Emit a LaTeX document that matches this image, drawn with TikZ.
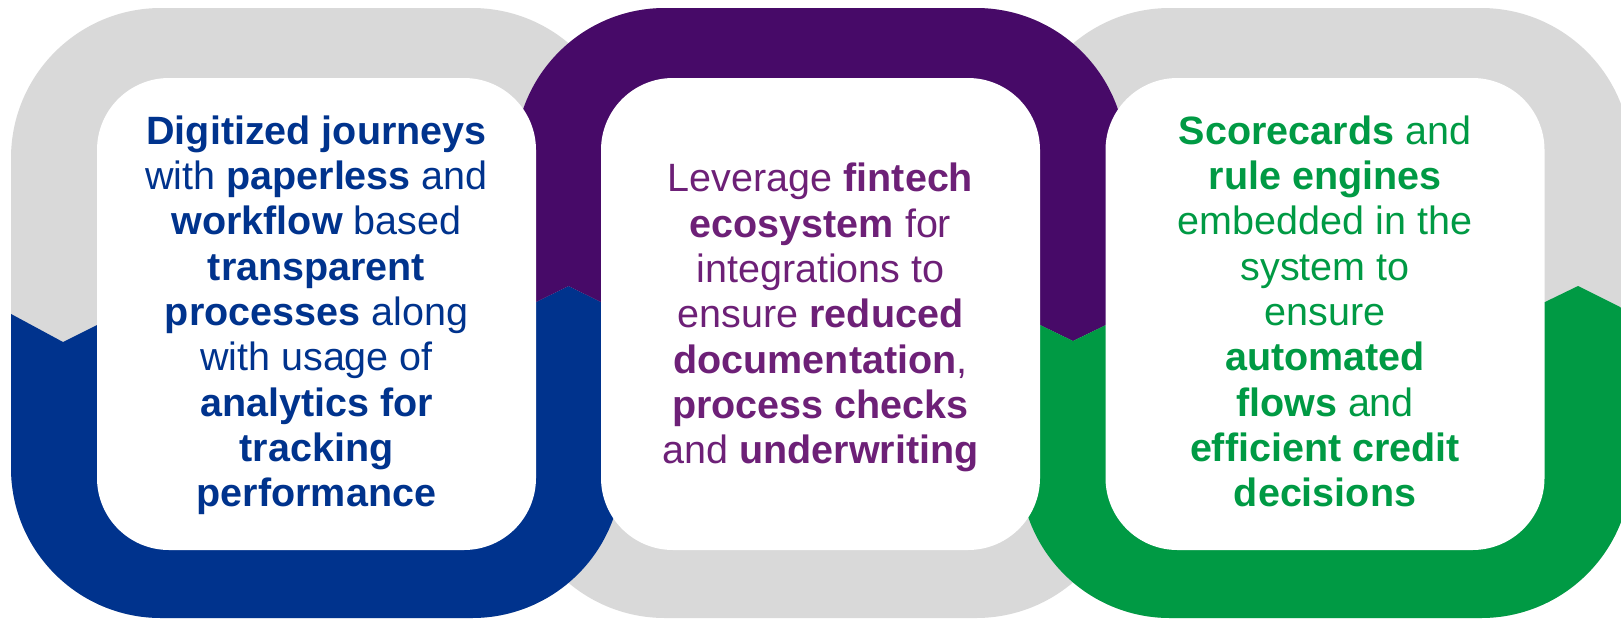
\documentclass[tikz,border=0pt]{standalone}
\usepackage{fontspec}
\setmainfont{Liberation Sans}
\definecolor{ringgrey}{HTML}{D9D9D9}
\definecolor{ringblue}{HTML}{00338D}
\definecolor{ringpurple}{HTML}{470A68}
\definecolor{ringgreen}{HTML}{009A44}
\definecolor{txtpurple}{HTML}{6D2077}
\definecolor{txtgreen}{HTML}{009A44}
\begin{document}
\begin{tikzpicture}[x=1pt,y=-1pt,
  outerring/.style={rounded corners=150pt},
  innerbox/.style={fill=white, rounded corners=72pt, inner sep=0pt, minimum width=439pt, minimum height=472pt},
  blocktext/.style={align=center, inner sep=0pt, anchor=base, font=\fontsize{39.5}{45.3}\selectfont}]
\useasboundingbox (0,0) rectangle (1621,619);
% grey backgrounds of the three rings
\fill[ringgrey, outerring] (11,8) rectangle (622,618);
\fill[ringgrey, outerring] (515,8) rectangle (1126,618);
\fill[ringgrey, outerring] (1020,8) rectangle (1631,618);
% blue lower part of left ring
\begin{scope}
  \clip (-10,302.6) -- (63,342) -- (97,325) -- (536,302) -- (568.5,286) -- (601,302) -- (640,302) -- (640,640) -- (-10,640) -- cycle;
  \fill[ringblue, outerring] (11,8) rectangle (622,618);
\end{scope}
% purple upper part of middle ring
\begin{scope}
  \clip (480,-10) -- (480,302) -- (536,302) -- (568.5,286) -- (601,302) -- (1040,325) -- (1073,341) -- (1106,325) -- (1150,325) -- (1150,-10) -- cycle;
  \fill[ringpurple, outerring] (515,8) rectangle (1126,618);
\end{scope}
% green lower part of right ring
\begin{scope}
  \clip (1000,325) -- (1040,325) -- (1073,341) -- (1106,325) -- (1545,302) -- (1578,286) -- (1640,317) -- (1640,640) -- (1000,640) -- cycle;
  \fill[ringgreen, outerring] (1020,8) rectangle (1631,618);
\end{scope}
% white inner boxes
\node[innerbox] (boxA) at (316.5,314) {};
\node[innerbox] (boxB) at (820.5,314) {};
\node[innerbox] (boxC) at (1325,314) {};
% texts (anchor = baseline of last line)
\node[blocktext, text=ringblue] (textA) at (316.5,506.7) {%
\textbf{Digitized journeys}\\
with \textbf{paperless} and\\
\textbf{workflow} based\\
\textbf{transparent}\\
\textbf{processes} along\\
with usage of\\
\textbf{analytics for}\\
\textbf{tracking}\\
\textbf{performance}};
\node[blocktext, text=txtpurple] (textB) at (820.5,463.6) {%
Leverage \textbf{fintech}\\
\textbf{ecosystem} for\\
integrations to\\
ensure \textbf{reduced}\\
\textbf{documentation},\\
\textbf{process checks}\\
and \textbf{underwriting}};
\node[blocktext, text=txtgreen] (textC) at (1325,506.7) {%
\textbf{Scorecards} and\\
\textbf{rule engines}\\
embedded in the\\
system to\\
ensure\\
\textbf{automated}\\
\textbf{flows} and\\
\textbf{efficient credit}\\
\textbf{decisions}};
\end{tikzpicture}
\end{document}
